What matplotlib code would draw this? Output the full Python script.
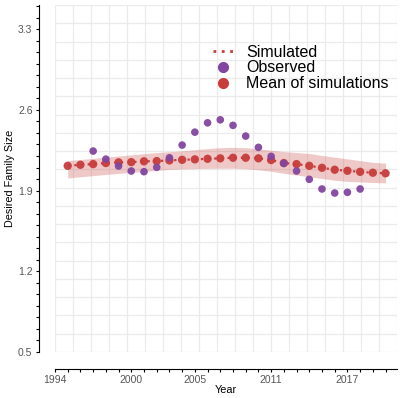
import numpy as np
import matplotlib
matplotlib.use("Agg")
import matplotlib.pyplot as plt
from matplotlib.lines import Line2D

plt.rcParams['font.family'] = ['Liberation Sans', 'DejaVu Sans']

# simulated years and mean of simulations
sim_years = list(range(1995, 2021))
sim_mean = [2.115, 2.124, 2.130, 2.139, 2.145, 2.147, 2.154, 2.156, 2.162, 2.167,
            2.171, 2.176, 2.180, 2.185, 2.185, 2.180, 2.165, 2.139, 2.130, 2.115,
            2.098, 2.081, 2.072, 2.063, 2.055, 2.050]
sim_upper = [2.160, 2.170, 2.180, 2.190, 2.200, 2.210, 2.220, 2.230, 2.237, 2.245,
             2.255, 2.265, 2.272, 2.275, 2.272, 2.262, 2.250, 2.238, 2.230, 2.222,
             2.205, 2.190, 2.175, 2.160, 2.145, 2.138]
sim_lower = [2.010, 2.020, 2.030, 2.040, 2.050, 2.058, 2.066, 2.075, 2.084, 2.088,
             2.091, 2.093, 2.094, 2.094, 2.090, 2.080, 2.068, 2.050, 2.035, 2.020,
             2.005, 1.990, 1.980, 1.975, 1.970, 1.967]

# observed
obs_years = list(range(1997, 2019))
obs_vals = [2.243, 2.173, 2.113, 2.070, 2.064, 2.102, 2.185, 2.295, 2.407, 2.488,
            2.514, 2.466, 2.373, 2.275, 2.197, 2.136, 2.070, 1.998, 1.914, 1.879,
            1.885, 1.914]

x_labels = [1994, 2000, 2005, 2011, 2017]
y_labels = [0.5, 1.2, 1.9, 2.6, 3.3]

red = '#C83C3C'
purple = '#8246A0'

fig = plt.figure(figsize=(4.0, 3.98), dpi=100)
ax = fig.add_axes([55/400, 46/398, 342/400, 347/398])

ax.set_xlim(1994, 2020.9)
ax.set_ylim(0.5, 3.51)

# background grid (evenly spaced over the panel)
for f in np.linspace(0, 1, 20):
    ax.axvline(1994 + f * (2020.9 - 1994), color='#ebebeb', lw=0.9, zorder=0)
    ax.axhline(0.5 + f * (3.51 - 0.5), color='#ebebeb', lw=0.9, zorder=0)

ax.fill_between(sim_years, sim_lower, sim_upper, color=red, alpha=0.28, lw=0, zorder=1)
ax.plot(sim_years, sim_mean, ls=(0, (1, 2)), color=red, lw=1.6, zorder=2)
ax.scatter(sim_years, sim_mean, s=36, color=red, edgecolors='none', alpha=0.95, zorder=3)
ax.scatter(obs_years, obs_vals, s=30, color=purple, edgecolors='none', alpha=0.95, zorder=4)

# axes drawn apart from the panel (points: 1pt = 1.39px at 100 dpi)
for s in ['top', 'right']:
    ax.spines[s].set_visible(False)
ax.spines['left'].set_position(('outward', 11.8))
ax.spines['bottom'].set_position(('outward', 12.2))
ax.spines['left'].set_bounds(0.5, 3.51)

ax.set_xticks(x_labels)
ax.set_xticklabels([str(v) for v in x_labels])
ax.set_xticks(range(1994, 2021), minor=True)
ax.set_yticks(y_labels)
ax.set_yticklabels([str(v) for v in y_labels])
ax.set_yticks(np.arange(0.5, 3.55, 0.1), minor=True)
ax.tick_params(which='both', length=2.4, width=0.8, color='black')
ax.tick_params(which='major', labelsize=7.5, labelcolor='#555555', pad=2)

ax.set_xlabel('Year', fontsize=7.8)
ax.set_ylabel('Desired Family Size', fontsize=7.8)
ax.xaxis.set_label_coords(0.5, -0.095)
ax.yaxis.set_label_coords(-0.118, 0.5)

handles = [
    Line2D([], [], ls=(0, (1, 2)), color=red, lw=2),
    Line2D([], [], ls='none', marker='o', color=purple, markersize=7),
    Line2D([], [], ls='none', marker='o', color=red, markersize=7),
]
ax.legend(handles, ['Simulated', 'Observed', 'Mean of simulations'],
          loc='upper left', bbox_to_anchor=(0.44, 0.909), frameon=False,
          fontsize=11.5, borderpad=0, labelspacing=0.05, handlelength=1.2,
          handletextpad=0.85)

fig.savefig('out.png', dpi=100)
